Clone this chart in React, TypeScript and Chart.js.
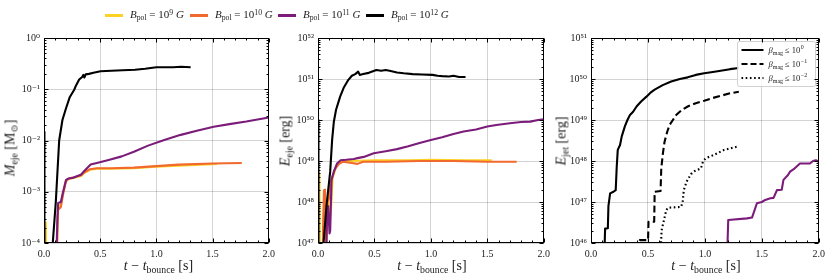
import React, { useEffect, useRef } from 'react';
import { Chart, registerables } from 'chart.js';

Chart.register(...registerables);

// ---------------- data (times in s, values as log10) ----------------
// Panel 1: log10(M_eje / M_sun)
const M_T_B9 = [0.0, 0.012, 0.016, 0.02, 0.11, 0.118, 0.125, 0.15, 0.17, 0.195, 0.22, 0.26, 0.33, 0.36, 0.41, 0.47, 0.6, 0.8, 1.0, 1.2, 1.4, 1.54];
const M_LOG_B9 = [-4.6, -4.6, -3.6, -4.6, -4.6, -3.9, -3.3, -3.25, -3.0, -2.78, -2.75, -2.73, -2.69, -2.63, -2.57, -2.55, -2.55, -2.54, -2.51, -2.49, -2.47, -2.46];
const M_T_B10 = [0.112, 0.12, 0.125, 0.15, 0.17, 0.195, 0.22, 0.26, 0.33, 0.36, 0.41, 0.47, 0.6, 0.8, 1.0, 1.2, 1.5, 1.76];
const M_LOG_B10 = [-4.6, -3.6, -3.35, -3.3, -3.05, -2.8, -2.74, -2.72, -2.68, -2.62, -2.56, -2.54, -2.54, -2.53, -2.5, -2.47, -2.45, -2.44];
const M_T_B11 = [0.105, 0.12, 0.126, 0.15, 0.167, 0.196, 0.22, 0.254, 0.327, 0.356, 0.415, 0.47, 0.575, 0.692, 0.8, 0.926, 1.07, 1.217, 1.36, 1.51, 1.65, 1.8, 1.9, 2.0];
const M_LOG_B11 = [-4.6, -3.5, -3.22, -3.2, -3.03, -2.77, -2.74, -2.73, -2.67, -2.6, -2.47, -2.44, -2.38, -2.31, -2.22, -2.1, -1.99, -1.89, -1.81, -1.73, -1.68, -1.63, -1.59, -1.55];
const M_T_B12 = [0.0, 0.004, 0.07, 0.078, 0.105, 0.135, 0.164, 0.196, 0.23, 0.269, 0.284, 0.313, 0.34, 0.35, 0.36, 0.371, 0.4, 0.44, 0.503, 0.6, 0.7, 0.81, 0.9, 1.0, 1.07, 1.15, 1.22, 1.305];
const M_LOG_B12 = [-1.83, -4.6, -4.6, -4.0, -3.2, -2.0, -1.6, -1.37, -1.15, -1.01, -0.93, -0.81, -0.76, -0.72, -0.77, -0.71, -0.7, -0.68, -0.65, -0.64, -0.63, -0.62, -0.6, -0.57, -0.57, -0.57, -0.56, -0.57];

// Panel 2: log10(E_eje / erg)
const E_T_B9 = [0.0, 0.012, 0.018, 0.07, 0.08, 0.09, 0.1, 0.115, 0.13, 0.17, 0.2, 0.3, 0.5, 0.8, 1.0, 1.3, 1.54];
const E_LOG_B9 = [48.5, 48.7, 46.5, 46.5, 47.7, 48.3, 47.5, 47.8, 48.6, 48.92, 49.0, 49.0, 49.02, 49.02, 49.03, 49.02, 49.02];
const E_T_B10 = [0.038, 0.044, 0.053, 0.062, 0.068, 0.075, 0.085, 0.1, 0.11, 0.128, 0.15, 0.19, 0.22, 0.3, 0.35, 0.4, 0.6, 0.9, 1.2, 1.5, 1.76];
const E_LOG_B10 = [46.5, 47.3, 48.29, 48.3, 47.2, 47.0, 48.0, 48.1, 48.45, 48.62, 48.8, 48.94, 48.98, 48.95, 48.93, 48.98, 48.98, 49.0, 49.0, 48.98, 48.98];
const E_T_B11 = [0.07, 0.082, 0.09, 0.102, 0.108, 0.12, 0.14, 0.169, 0.2, 0.25, 0.317, 0.35, 0.406, 0.494, 0.6, 0.7, 0.8, 0.9, 1.0, 1.1, 1.2, 1.29, 1.4, 1.5, 1.58, 1.7, 1.8, 1.88, 1.95, 2.0];
const E_LOG_B11 = [46.5, 47.85, 47.9, 47.23, 47.3, 48.54, 48.74, 48.94, 49.02, 49.03, 49.05, 49.07, 49.1, 49.19, 49.24, 49.29, 49.36, 49.44, 49.51, 49.58, 49.66, 49.72, 49.77, 49.84, 49.88, 49.92, 49.95, 49.96, 50.0, 50.02];
const E_T_B12 = [0.0, 0.004, 0.03, 0.049, 0.075, 0.108, 0.125, 0.14, 0.16, 0.196, 0.23, 0.269, 0.3, 0.33, 0.356, 0.37, 0.4, 0.45, 0.517, 0.56, 0.6, 0.634, 0.7, 0.76, 0.839, 0.92, 1.014, 1.06, 1.1, 1.16, 1.2, 1.25, 1.307];
const E_LOG_B12 = [50.0, 46.5, 46.5, 47.0, 47.9, 48.74, 49.51, 49.95, 50.25, 50.57, 50.8, 50.98, 51.08, 51.12, 51.18, 51.1, 51.12, 51.15, 51.22, 51.2, 51.22, 51.2, 51.16, 51.14, 51.12, 51.11, 51.1, 51.08, 51.07, 51.06, 51.08, 51.05, 51.05];

// Panel 3: log10(E_jet / erg)
const J_T_BETA0 = [0.118, 0.124, 0.148, 0.153, 0.168, 0.197, 0.217, 0.226, 0.235, 0.255, 0.27, 0.298, 0.32, 0.342, 0.37, 0.4, 0.44, 0.487, 0.52, 0.559, 0.63, 0.704, 0.78, 0.849, 0.92, 0.994, 1.07, 1.139, 1.22, 1.298];
const J_LOG_BETA0 = [45.8, 46.35, 46.36, 46.9, 47.21, 47.25, 47.29, 47.86, 48.27, 48.39, 48.6, 48.85, 49.0, 49.12, 49.2, 49.33, 49.45, 49.57, 49.66, 49.74, 49.85, 49.94, 50.0, 50.04, 50.1, 50.14, 50.17, 50.2, 50.24, 50.27];
const J_T_BETA1 = [0.425, 0.429, 0.501, 0.505, 0.555, 0.559, 0.611, 0.617, 0.632, 0.646, 0.67, 0.69, 0.748, 0.8, 0.849, 0.92, 0.994, 1.06, 1.139, 1.22, 1.298];
const J_LOG_BETA1 = [45.8, 46.07, 46.07, 46.52, 46.52, 47.25, 47.27, 47.82, 48.2, 48.47, 48.72, 48.88, 49.12, 49.25, 49.33, 49.41, 49.47, 49.53, 49.59, 49.65, 49.69];
const J_T_BETA2 = [0.611, 0.62, 0.661, 0.675, 0.791, 0.805, 0.815, 0.84, 0.878, 0.907, 0.965, 0.985, 1.009, 1.081, 1.168, 1.283];
const J_LOG_BETA2 = [45.8, 46.31, 46.8, 46.86, 46.88, 47.0, 47.29, 47.5, 47.68, 47.75, 47.82, 48.0, 48.07, 48.15, 48.27, 48.35];
const J_T_B11 = [1.197, 1.205, 1.37, 1.414, 1.457, 1.5, 1.53, 1.575, 1.603, 1.633, 1.675, 1.69, 1.73, 1.748, 1.78, 1.835, 1.922, 1.95, 1.975, 2.0];
const J_LOG_B11 = [45.8, 46.56, 46.6, 46.62, 46.97, 47.0, 47.05, 47.09, 47.1, 47.29, 47.3, 47.54, 47.66, 47.74, 47.8, 47.94, 47.94, 48.0, 48.02, 47.98];

// axis ranges (decade exponents) and tick labels
const X_MAJOR = [0.0, 0.5, 1.0, 1.5, 2.0];
const Y1_RANGE = [-4, 0];
const Y2_RANGE = [47, 52];
const Y3_RANGE = [46, 51];
const FIELD_EXPONENTS = ['9', '10', '11', '12'];
const BETA_EXPONENTS = ['0', '−1', '−2'];

const COL_B9 = '#FCD225';
const COL_B10 = '#F1692C';
const COL_B11 = '#7B1C7A';
const COL_B12 = '#000000';
const SERIF = "'Liberation Serif', 'DejaVu Serif', serif";
const GRID = 'rgba(0,0,0,0.17)';

// ---------------- helpers ----------------
const toPts = (t: number[], lg: number[]) => t.map((x, i) => ({ x, y: Math.pow(10, lg[i]) }));
const SUP: Record<string, string> = { '-': '⁻', '−': '⁻', '0': '⁰', '1': '¹', '2': '²', '3': '³', '4': '⁴', '5': '⁵', '6': '⁶', '7': '⁷', '8': '⁸', '9': '⁹' };
const sup = (s: string) => s.split('').map((c) => SUP[c] ?? c).join('');
const decadeOf = (v: number) => {
  const l = Math.log10(v);
  const r = Math.round(l);
  return Math.abs(l - r) < 1e-6 ? r : null;
};
const isMajorX = (v: number) => Math.abs(v * 2 - Math.round(v * 2)) < 1e-6;
const logTicks = (lo: number, hi: number) => {
  const out: { value: number }[] = [];
  for (let d = lo; d < hi; d++) for (let k = 1; k <= 9; k++) out.push({ value: Number(`${k}e${d}`) });
  out.push({ value: Number(`1e${hi}`) });
  return out;
};
const xTicks = () => {
  const out: { value: number }[] = [];
  for (let i = 0; i <= 20; i++) out.push({ value: Math.round(i) / 10 });
  return out;
};

const line = (ctx: CanvasRenderingContext2D, x1: number, y1: number, x2: number, y2: number) => {
  ctx.beginPath();
  ctx.moveTo(x1, y1);
  ctx.lineTo(x2, y2);
  ctx.stroke();
};

const framePlugin = {
  id: 'frameTicks',
  afterDraw(chart: any) {
    const { ctx, chartArea: a, scales } = chart;
    const L = Math.round(a.left) + 0.5;
    const R = Math.round(a.right) - 0.5;
    const T = Math.round(a.top) + 0.5;
    const B = Math.round(a.bottom) - 0.5;
    ctx.save();
    ctx.strokeStyle = '#000';
    ctx.lineWidth = 1;
    ctx.setLineDash([]);
    for (const t of scales.y.ticks) {
      const p = Math.round(scales.y.getPixelForValue(t.value)) + 0.5;
      const len = decadeOf(t.value) !== null ? 4 : 2;
      line(ctx, L, p, L + len, p);
      line(ctx, R, p, R - len, p);
    }
    for (const t of scales.x.ticks) {
      const p = Math.round(scales.x.getPixelForValue(t.value)) + 0.5;
      const len = isMajorX(t.value) ? 4 : 2;
      line(ctx, p, B, p, B - len);
      line(ctx, p, T, p, T + len);
    }
    ctx.strokeRect(L, T, R - L, B - T);
    ctx.restore();
  },
};

const jetLegendPlugin = {
  id: 'jetLegend',
  afterDatasetsDraw(chart: any) {
    const { ctx, chartArea: a } = chart;
    const bx = Math.round(a.right) - 81.5;
    const by = Math.round(a.top) + 3.5;
    const bw = 78;
    const bh = 45;
    ctx.save();
    ctx.beginPath();
    ctx.roundRect(bx, by, bw, bh, 2);
    ctx.fillStyle = 'rgba(255,255,255,0.8)';
    ctx.fill();
    ctx.strokeStyle = 'rgba(204,204,204,0.9)';
    ctx.lineWidth = 1;
    ctx.stroke();
    const dashes = [[], [6, 3], [1.6, 2.6]];
    BETA_EXPONENTS.forEach((ex, i) => {
      const y = by + 8.5 + i * 14;
      ctx.strokeStyle = '#000';
      ctx.lineWidth = 2;
      ctx.setLineDash(dashes[i]);
      line(ctx, bx + 4, y, bx + 26, y);
      ctx.setLineDash([]);
      ctx.fillStyle = '#222';
      let x = bx + 31;
      const base = y + 3;
      ctx.font = `italic 8.5px ${SERIF}`;
      ctx.fillText('β', x, base);
      x += ctx.measureText('β').width;
      ctx.font = `6px ${SERIF}`;
      ctx.fillText('mag', x, base + 2);
      x += ctx.measureText('mag').width + 2;
      ctx.font = `8.5px ${SERIF}`;
      ctx.fillText('≤ 10', x, base);
      x += ctx.measureText('≤ 10').width;
      ctx.font = `6px ${SERIF}`;
      ctx.fillText(ex, x + 0.5, base - 4);
    });
    ctx.restore();
  },
};

type PanelCfg = {
  datasets: any[];
  range: number[];
  yWidth: number;
  padRight: number;
  extra?: any[];
};

const makeChart = (canvas: HTMLCanvasElement, cfg: PanelCfg) =>
  new Chart(canvas, {
    type: 'line',
    data: { datasets: cfg.datasets },
    options: {
      animation: false,
      responsive: false,
      maintainAspectRatio: false,
      devicePixelRatio: 1,
      layout: { padding: { left: 0, right: cfg.padRight, top: 38, bottom: 0 } },
      plugins: { legend: { display: false }, tooltip: { enabled: false } },
      elements: { point: { radius: 0 }, line: { tension: 0, borderCapStyle: 'butt', borderJoinStyle: 'round' } },
      scales: {
        x: {
          type: 'linear',
          min: 0,
          max: 2,
          afterBuildTicks: (s: any) => {
            s.ticks = xTicks();
          },
          afterFit: (s: any) => {
            s.height = 35;
          },
          ticks: {
            autoSkip: false,
            maxRotation: 0,
            padding: 5,
            color: '#222',
            font: { family: SERIF, size: 10 },
            callback: (v: any) => (isMajorX(Number(v)) ? X_MAJOR.find((m) => Math.abs(m - Number(v)) < 1e-6)!.toFixed(1) : ''),
          },
          grid: {
            drawTicks: false,
            lineWidth: 1,
            color: (c: any) => (c.tick && isMajorX(c.tick.value) ? GRID : 'rgba(0,0,0,0)'),
          },
          border: { display: false },
        },
        y: {
          type: 'logarithmic',
          min: Number(`1e${cfg.range[0]}`),
          max: Number(`1e${cfg.range[1]}`),
          afterBuildTicks: (s: any) => {
            s.ticks = logTicks(cfg.range[0], cfg.range[1]);
          },
          afterFit: (s: any) => {
            s.width = cfg.yWidth;
          },
          ticks: {
            autoSkip: false,
            padding: 4,
            color: '#222',
            font: { family: SERIF, size: 10 },
            callback: (v: any) => {
              const d = decadeOf(Number(v));
              return d === null ? '' : '10' + sup(String(d));
            },
          },
          grid: {
            drawTicks: false,
            lineWidth: 1,
            color: (c: any) => (c.tick && decadeOf(c.tick.value) !== null ? GRID : 'rgba(0,0,0,0)'),
          },
          border: { display: false },
        },
      },
    } as any,
    plugins: [framePlugin, ...(cfg.extra || [])],
  });

const ds = (t: number[], lg: number[], color: string, order: number, dash: number[] = []) => ({
  data: toPts(t, lg),
  borderColor: color,
  backgroundColor: color,
  borderWidth: 2.1,
  borderDash: dash,
  fill: false,
  order,
});

const Sub = ({ children }: { children: React.ReactNode }) => (
  <span style={{ fontSize: '0.7em', position: 'relative', top: '0.32em' }}>{children}</span>
);
const Sup = ({ children }: { children: React.ReactNode }) => (
  <span style={{ fontSize: '0.7em', position: 'relative', top: '-0.45em' }}>{children}</span>
);

const XTitle = ({ cx }: { cx: number }) => (
  <div style={{ position: 'absolute', left: cx, top: 266, transform: 'translate(-50%, -50%)', whiteSpace: 'nowrap', fontFamily: SERIF, fontSize: 14, color: '#222', lineHeight: '16px' }}>
    <i>t</i> − <i>t</i>
    <Sub>bounce</Sub> [s]
  </div>
);

const YTitle = ({ cx, cy, children }: { cx: number; cy: number; children: React.ReactNode }) => (
  <div style={{ position: 'absolute', left: cx, top: cy, transform: 'translate(-50%, -50%) rotate(-90deg)', whiteSpace: 'nowrap', fontFamily: SERIF, fontSize: 14, color: '#222', lineHeight: '16px' }}>
    {children}
  </div>
);

const LEGEND_POS = [
  { line: 105, text: 130, color: COL_B9 },
  { line: 190, text: 215, color: COL_B10 },
  { line: 278, text: 303, color: COL_B11 },
  { line: 366, text: 391, color: COL_B12 },
];

export default function App() {
  const c1 = useRef<HTMLCanvasElement>(null);
  const c2 = useRef<HTMLCanvasElement>(null);
  const c3 = useRef<HTMLCanvasElement>(null);

  useEffect(() => {
    const charts = [
      makeChart(c1.current!, {
        range: Y1_RANGE,
        yWidth: 44,
        padRight: 7,
        datasets: [
          ds(M_T_B9, M_LOG_B9, COL_B9, 4),
          ds(M_T_B10, M_LOG_B10, COL_B10, 3),
          ds(M_T_B11, M_LOG_B11, COL_B11, 2),
          ds(M_T_B12, M_LOG_B12, COL_B12, 1),
        ],
      }),
      makeChart(c2.current!, {
        range: Y2_RANGE,
        yWidth: 38,
        padRight: 9,
        datasets: [
          ds(E_T_B9, E_LOG_B9, COL_B9, 4),
          ds(E_T_B10, E_LOG_B10, COL_B10, 3),
          ds(E_T_B11, E_LOG_B11, COL_B11, 2),
          ds(E_T_B12, E_LOG_B12, COL_B12, 1),
        ],
      }),
      makeChart(c3.current!, {
        range: Y3_RANGE,
        yWidth: 36,
        padRight: 9,
        extra: [jetLegendPlugin],
        datasets: [
          ds(J_T_B11, J_LOG_B11, COL_B11, 4),
          ds(J_T_BETA2, J_LOG_BETA2, COL_B12, 3, [1.6, 2.6]),
          ds(J_T_BETA1, J_LOG_BETA1, COL_B12, 2, [7, 3.5]),
          ds(J_T_BETA0, J_LOG_BETA0, COL_B12, 1),
        ],
      }),
    ];
    return () => charts.forEach((c) => c.destroy());
  }, []);

  const canvasStyle = (left: number, width: number): React.CSSProperties => ({ position: 'absolute', left, top: 0, width, height: 278 });

  return (
    <div style={{ position: 'absolute', left: 0, top: 0, width: 830, height: 278, background: '#fff', overflow: 'hidden' }}>
      <canvas ref={c1} width={280} height={278} style={canvasStyle(0, 280)} />
      <canvas ref={c2} width={275} height={278} style={canvasStyle(280, 275)} />
      <canvas ref={c3} width={275} height={278} style={canvasStyle(555, 275)} />

      {LEGEND_POS.map((p, i) => (
        <React.Fragment key={i}>
          <div style={{ position: 'absolute', left: p.line, top: 13.5, width: 18, height: 3, background: p.color }} />
          <div style={{ position: 'absolute', left: p.text, top: 6, whiteSpace: 'nowrap', fontFamily: SERIF, fontSize: 11, lineHeight: '16px', color: '#222' }}>
            <i>B</i>
            <Sub>pol</Sub> = 10<Sup>{FIELD_EXPONENTS[i]}</Sup> <i>G</i>
          </div>
        </React.Fragment>
      ))}

      <YTitle cx={11} cy={148}>
        <i>M</i>
        <Sub>eje</Sub> [M<Sub>⊙</Sub>]
      </YTitle>
      <YTitle cx={286} cy={141}>
        <i>E</i>
        <Sub>eje</Sub> [erg]
      </YTitle>
      <YTitle cx={562} cy={141}>
        <i>E</i>
        <Sub>jet</Sub> [erg]
      </YTitle>

      <XTitle cx={158.5} />
      <XTitle cx={432} />
      <XTitle cx={706} />
    </div>
  );
}
